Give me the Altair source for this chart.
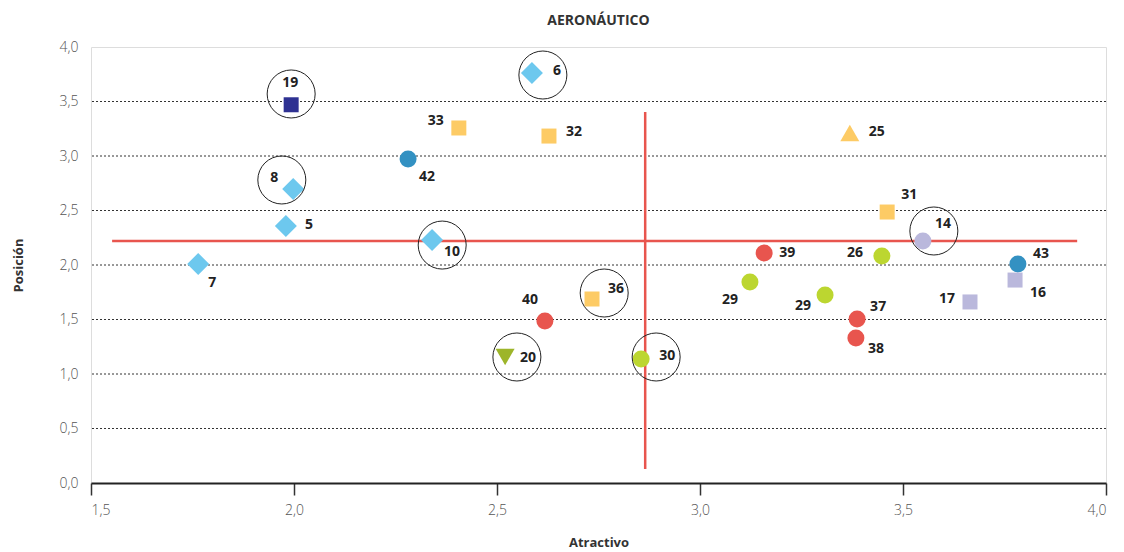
import altair as alt
import pandas as pd

# ---- data ----
ids = ["19", "6", "33", "32", "42", "8", "5", "10", "7", "40", "36", "20", "30",
       "25", "31", "14", "39", "26", "43", "29", "29", "37", "38", "17", "16"]
atractivo = [1.993, 2.586, 2.406, 2.628, 2.281, 1.998, 1.980, 2.340, 1.764, 2.618, 2.734, 2.520, 2.855,
             3.369, 3.461, 3.549, 3.158, 3.448, 3.783, 3.123, 3.308, 3.387, 3.384, 3.665, 3.776]
posicion = [3.47, 3.761, 3.257, 3.183, 2.972, 2.697, 2.358, 2.229, 2.009, 1.486, 1.688, 1.156, 1.138,
            3.211, 2.486, 2.220, 2.110, 2.083, 2.009, 1.844, 1.725, 1.505, 1.330, 1.661, 1.862]
grupo = ["B", "A", "C", "C", "E", "A", "A", "A", "A", "F", "C", "H", "G",
         "D", "C", "I", "F", "G", "E", "G", "G", "F", "F", "J", "J"]
# label offsets in pixels (style)
lab_dx = [-1, 25, -23, 25, 19, -19, 23, 20, 14, -15, 24, 23, 26,
          27, 22, 20, 23, -27, 23, -20, -22, 21, 20, -23, 23]
lab_dy = [-22, -2, -7, -4, 18, -11, -1, 12, 19, -21, -10, 1, -3,
          -1, -17, -17, 0, -3, -10, 18, 11, -12, 11, -3, 13]

# highlighted (circled) items
circ_x = [1.993, 1.970, 2.613, 2.365, 2.764, 2.549, 2.892, 3.576]
circ_y = [3.569, 2.780, 3.743, 2.183, 1.743, 1.156, 1.156, 2.312]

# reference lines
linea_h = {"y": 2.22, "x1": 1.552, "x2": 3.929}
linea_v = {"x": 2.865, "y1": 0.128, "y2": 3.404}

grid_vals = [0.5, 1.0, 1.5, 2.0, 2.5, 3.0, 3.5]
x_ticks = [1.5, 2.0, 2.5, 3.0, 3.5, 4.0]
y_ticks = [0.0, 0.5, 1.0, 1.5, 2.0, 2.5, 3.0, 3.5, 4.0]

grupos = ["A", "B", "C", "D", "E", "F", "G", "H", "I", "J"]
colores = ["#6DC8EE", "#2E3192", "#FDCB65", "#FDCB65", "#3391C2", "#E8554E",
           "#BCD630", "#9DB52A", "#BAB8DC", "#BAB8DC"]
formas = ["diamond", "square", "square", "triangle-up", "circle", "circle",
          "circle", "triangle-down", "circle", "square"]
tamanos = [484, 225, 225, 361, 289, 289, 289, 361, 289, 225]

W, H = 1015, 436
XMIN, XMAX, YMIN, YMAX = 1.5, 4.0, 0.0, 4.0

df = pd.DataFrame({"id": ids, "x": atractivo, "y": posicion, "g": grupo,
                   "dx": lab_dx, "dy": lab_dy})
dfs = pd.DataFrame({"g": grupos, "s": tamanos})
dfc = pd.DataFrame({"x": circ_x, "y": circ_y})
dfh = pd.DataFrame([linea_h])
dfv = pd.DataFrame([linea_v])
dfg = pd.DataFrame({"y": grid_vals})

FONT = "Open Sans"
lab_expr = "replace(format(datum.value, '.1f'), '.', ',')"

xs = alt.Scale(domain=[XMIN, XMAX], nice=False, zero=False)
ys = alt.Scale(domain=[YMIN, YMAX], nice=False, zero=False)

x_axis = alt.Axis(values=x_ticks, labelExpr=lab_expr, grid=False, domainColor="#222",
                  domainWidth=2, tickColor="#333", tickSize=12, tickWidth=1.5,
                  labelPadding=8, labelFontSize=14, labelColor="#555", labelFont=FONT,
                  labelFontWeight=300, title="Atractivo", titleFont=FONT, titleFontSize=13,
                  titleFontWeight="bold", titleColor="#333", titlePadding=19)
y_axis = alt.Axis(values=y_ticks, labelExpr=lab_expr, grid=False, domain=False, ticks=False,
                  labelPadding=13, labelFontSize=14, labelColor="#555", labelFont=FONT,
                  labelFontWeight=300, title="Posición", titleFont=FONT, titleFontSize=13,
                  titleFontWeight="bold", titleColor="#333", titlePadding=34)

base_axes = alt.Chart(df).mark_point(opacity=0).encode(
    x=alt.X("x:Q", scale=xs, axis=x_axis),
    y=alt.Y("y:Q", scale=ys, axis=y_axis),
)

grid = alt.Chart(dfg).mark_rule(color="#333", strokeDash=[2, 2], strokeWidth=1).encode(
    y=alt.Y("y:Q", scale=ys)
)

rule_h = alt.Chart(dfh).mark_rule(color="#E8554E", strokeWidth=2.5).encode(
    x=alt.X("x1:Q", scale=xs), x2="x2:Q", y=alt.Y("y:Q", scale=ys)
)
rule_v = alt.Chart(dfv).mark_rule(color="#E8554E", strokeWidth=2.5).encode(
    x=alt.X("x:Q", scale=xs), y=alt.Y("y1:Q", scale=ys), y2="y2:Q"
)

points = alt.Chart(df).transform_lookup(
    lookup="g", from_=alt.LookupData(dfs, "g", ["s"])
).mark_point(filled=True, opacity=1, strokeWidth=0).encode(
    x=alt.X("x:Q", scale=xs),
    y=alt.Y("y:Q", scale=ys),
    color=alt.Color("g:N", scale=alt.Scale(domain=grupos, range=colores), legend=None),
    shape=alt.Shape("g:N", scale=alt.Scale(domain=grupos, range=formas), legend=None),
    size=alt.Size("s:Q", scale=None, legend=None),
)

circles = alt.Chart(dfc).mark_point(shape="circle", filled=False, size=2304, color="#222",
                                     strokeWidth=1, opacity=1).encode(
    x=alt.X("x:Q", scale=xs), y=alt.Y("y:Q", scale=ys)
)

labels = alt.Chart(df).transform_calculate(
    lx=f"datum.x + datum.dx * {(XMAX - XMIN) / W}",
    ly=f"datum.y - datum.dy * {(YMAX - YMIN) / H}",
).mark_text(font=FONT, fontSize=14, fontWeight="bold", color="#222",
            align="center", baseline="middle").encode(
    x=alt.X("lx:Q", scale=xs), y=alt.Y("ly:Q", scale=ys), text="id:N"
)

chart = alt.layer(base_axes, grid, rule_h, rule_v, points, circles, labels).properties(
    width=W, height=H,
    title=alt.TitleParams("AERONÁUTICO", font=FONT, fontSize=14, fontWeight="bold",
                          color="#333", anchor="middle", offset=12),
    autosize=alt.AutoSizeParams(type="none"),
    padding={"left": 83, "top": 39, "right": 10, "bottom": 68},
).configure_view(fill="#FEEFD3", stroke=None).configure(background="white")

chart.save("out.html", embed_options={"renderer": "svg", "actions": False})
